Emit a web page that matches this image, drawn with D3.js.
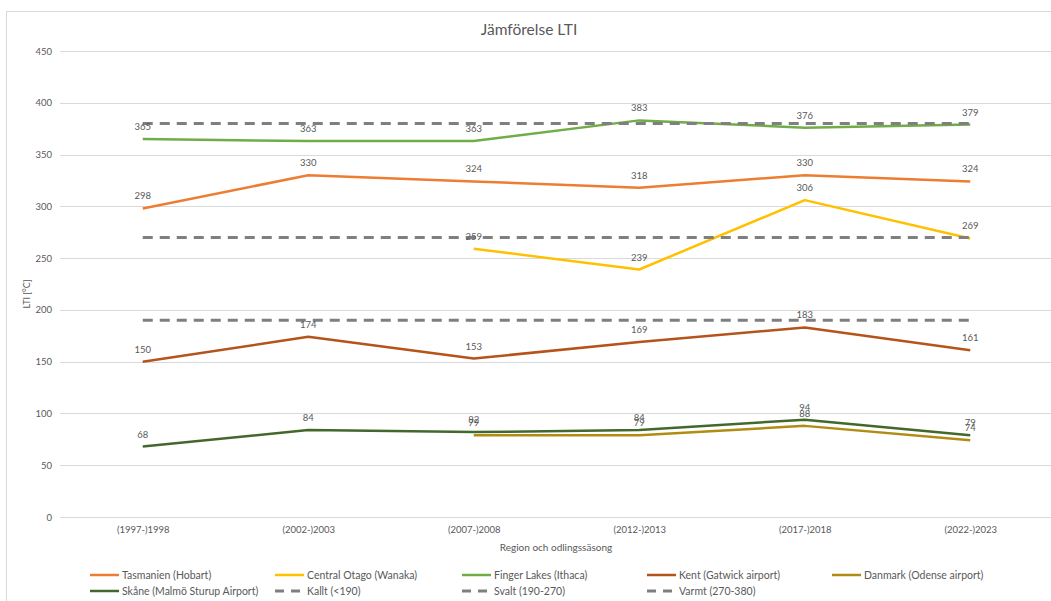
<!DOCTYPE html>
<html>
<head>
<meta charset="utf-8">
<script src="https://cdn.jsdelivr.net/npm/d3@7"></script>
<style>
  html, body { margin: 0; padding: 0; background: #fff; }
  svg { display: block; font-family: Lato, "Open Sans", sans-serif; }
</style>
</head>
<body>
<svg id="chart" width="1051" height="601"></svg>
<script>
// Growing seasons on the x axis
const seasons = ["(1997-)1998", "(2002-)2003", "(2007-)2008", "(2012-)2013", "(2017-)2018", "(2022-)2023"];

// LTI values per region (null = no data for that season)
const tasmanien   = [298, 330, 324, 318, 330, 324];
const otago       = [null, null, 259, 239, 306, 269];
const fingerLakes = [365, 363, 363, 383, 376, 379];
const kent        = [150, 174, 153, 169, 183, 161];
const danmark     = [null, null, 79, 79, 88, 74];
const skane       = [68, 84, 82, 84, 94, 79];

// Climate class thresholds
const kallt = [190, 190, 190, 190, 190, 190];
const svalt = [270, 270, 270, 270, 270, 270];
const varmt = [380, 380, 380, 380, 380, 380];

const yTicks = [0, 50, 100, 150, 200, 250, 300, 350, 400, 450];

const series = [
  { name: "Tasmanien (Hobart)",          values: tasmanien,   color: "#ED7D31", dashed: false },
  { name: "Central Otago (Wanaka)",      values: otago,       color: "#FFC000", dashed: false },
  { name: "Finger Lakes (Ithaca)",       values: fingerLakes, color: "#70AD47", dashed: false },
  { name: "Kent (Gatwick airport)",      values: kent,        color: "#B4541A", dashed: false },
  { name: "Danmark (Odense airport)",    values: danmark,     color: "#B08D12", dashed: false },
  { name: "Skåne (Malmö Sturup Airport)", values: skane,      color: "#43682B", dashed: false },
  { name: "Kallt (<190)",                values: kallt,       color: "#7F7F7F", dashed: true },
  { name: "Svalt (190-270)",             values: svalt,       color: "#7F7F7F", dashed: true },
  { name: "Varmt (270-380)",             values: varmt,       color: "#7F7F7F", dashed: true }
];

const svg = d3.select("#chart");
const textColor = "#595959";

// Chart frame
svg.append("rect")
  .attr("x", 6.5).attr("y", 11.5)
  .attr("width", 1060).attr("height", 600)
  .attr("fill", "#fff").attr("stroke", "#D9D9D9");

const plot = { left: 60, right: 1053, top: 51, bottom: 517 };

const x = d3.scalePoint()
  .domain(seasons)
  .range([plot.left, plot.right])
  .padding(0.5);

const y = d3.scaleLinear()
  .domain([0, 450])
  .range([plot.bottom, plot.top]);

// Horizontal gridlines
svg.append("g")
  .selectAll("line")
  .data(yTicks)
  .join("line")
  .attr("x1", plot.left).attr("x2", plot.right)
  .attr("y1", d => Math.round(y(d)) + 0.5).attr("y2", d => Math.round(y(d)) + 0.5)
  .attr("stroke", "#D9D9D9").attr("stroke-width", 1);

// Y axis labels
const yAxis = svg.append("g")
  .attr("transform", `translate(${plot.left},0)`)
  .call(d3.axisLeft(y).tickValues(yTicks).tickSize(0).tickPadding(8));
yAxis.select(".domain").remove();
yAxis.selectAll("text")
  .attr("fill", textColor).attr("font-size", 9.5)
  .attr("font-family", "Lato, 'Open Sans', sans-serif");

// X axis labels
const xAxis = svg.append("g")
  .attr("transform", `translate(0,${plot.bottom})`)
  .call(d3.axisBottom(x).tickSize(0).tickPadding(9));
xAxis.select(".domain").remove();
xAxis.selectAll("text")
  .attr("fill", textColor).attr("font-size", 9.5)
  .attr("font-family", "Lato, 'Open Sans', sans-serif");

// Titles
svg.append("text")
  .attr("x", 529).attr("y", 35)
  .attr("text-anchor", "middle")
  .attr("fill", textColor).attr("font-size", 15.5)
  .text("Jämförelse LTI");

svg.append("text")
  .attr("x", 556).attr("y", 551)
  .attr("text-anchor", "middle")
  .attr("fill", textColor).attr("font-size", 10)
  .text("Region och odlingssäsong");

svg.append("text")
  .attr("transform", `translate(30,${(plot.top + plot.bottom) / 2 + 10}) rotate(-90)`)
  .attr("text-anchor", "middle")
  .attr("fill", textColor).attr("font-size", 9)
  .text("LTI [°C]");

// Lines
const line = d3.line()
  .defined(d => d.v !== null)
  .x(d => x(d.s))
  .y(d => y(d.v));

const lines = svg.append("g");
series.forEach(s => {
  const pts = s.values.map((v, i) => ({ s: seasons[i], v }));
  lines.append("path")
    .datum(pts)
    .attr("d", line)
    .attr("fill", "none")
    .attr("stroke", s.color)
    .attr("stroke-width", s.dashed ? 3 : 2.5)
    .attr("stroke-dasharray", s.dashed ? "10,7" : null)
    .attr("stroke-linejoin", "round");
});

// Data labels above each point
const labels = svg.append("g");
series.filter(s => !s.dashed).forEach(s => {
  s.values.forEach((v, i) => {
    if (v === null) return;
    labels.append("text")
      .attr("x", x(seasons[i]))
      .attr("y", y(v) - 9)
      .attr("text-anchor", "middle")
      .attr("fill", textColor)
      .attr("font-size", 9.5)
      .text(v);
  });
});

// Legend
const legendCols = [90, 275, 462, 647, 832];
const legend = svg.append("g");
series.forEach((s, i) => {
  const col = i % 5;
  const row = Math.floor(i / 5);
  const lx = legendCols[col];
  const ly = 575 + row * 16;
  legend.append("line")
    .attr("x1", lx).attr("x2", lx + 29)
    .attr("y1", ly).attr("y2", ly)
    .attr("stroke", s.color)
    .attr("stroke-width", s.dashed ? 3 : 2.5)
    .attr("stroke-dasharray", s.dashed ? "9,7" : null);
  legend.append("text")
    .attr("x", lx + 32).attr("y", ly + 3.5)
    .attr("fill", textColor).attr("font-size", 10.5)
    .text(s.name);
});
</script>
</body>
</html>
